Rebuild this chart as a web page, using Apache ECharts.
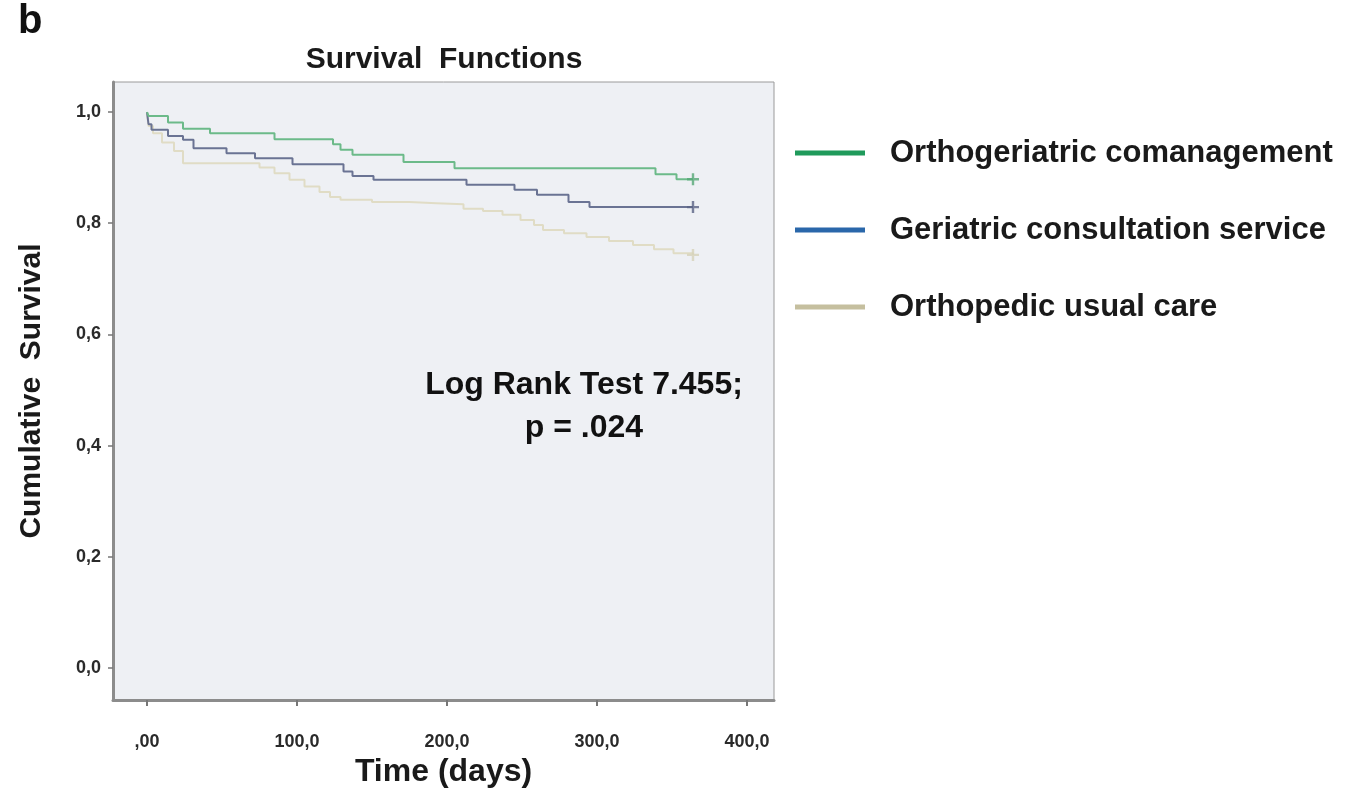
<!DOCTYPE html>
<html>
<head>
<meta charset="utf-8">
<script src="https://cdn.jsdelivr.net/npm/echarts@6/dist/echarts.min.js"></script>
<style>
  html, body { margin: 0; padding: 0; background: #fff; }
  #chart { width: 1350px; height: 793px; }
</style>
</head>
<body>
<div id="chart"></div>
<script>
// Kaplan-Meier curves (days, cumulative survival)
const groupNames = ['Orthogeriatric comanagement', 'Geriatric consultation service', 'Orthopedic usual care'];

const greenTimes = [0, 1, 14, 24, 42, 85, 124, 129, 137, 171, 205, 339, 353, 364];
const greenSurv  = [1.0, 0.993, 0.981, 0.970, 0.962, 0.951, 0.942, 0.932, 0.923, 0.910, 0.899, 0.888, 0.879, 0.879];

const blueTimes = [0, 1, 3, 14, 24, 31, 53, 72, 97, 131, 137, 151, 213, 245, 260, 281, 295, 364];
const blueSurv  = [1.0, 0.978, 0.968, 0.957, 0.950, 0.935, 0.926, 0.917, 0.906, 0.893, 0.885, 0.878, 0.869, 0.860, 0.851, 0.838, 0.829, 0.829];

const tanTimes = [0, 1, 4, 10, 18, 24, 75, 85, 95, 105, 115, 122, 129, 150, 175, 193, 211, 224, 237, 249, 258, 264, 278, 293, 308, 324, 338, 351, 364];
const tanSurv  = [1.0, 0.975, 0.962, 0.945, 0.930, 0.908, 0.900, 0.890, 0.878, 0.866, 0.856, 0.847, 0.842, 0.838, 0.836, 0.834, 0.826, 0.822, 0.815, 0.806, 0.797, 0.788, 0.782, 0.775, 0.768, 0.761, 0.753, 0.746, 0.743];

// censored at end of follow-up
const censorTime = 364;

const xTicks = [0, 100, 200, 300, 400];
const yTicks = [0, 0.2, 0.4, 0.6, 0.8, 1.0];

const lineColors   = ['#6cba89', '#6a7393', '#e0dcc5'];
const legendColors = ['#1f9a5b', '#2a67aa', '#c5bf9f'];

const FONT = '"Liberation Sans", Arial, sans-serif';

function zip(ts, ss) { return ts.map((t, i) => [t, ss[i]]); }

const curves = [zip(greenTimes, greenSurv), zip(blueTimes, blueSurv), zip(tanTimes, tanSurv)];

const series = [];
curves.forEach((d, i) => {
  series.push({
    name: groupNames[i],
    type: 'line',
    step: 'end',
    data: d,
    showSymbol: false,
    lineStyle: { color: lineColors[i], width: 2 },
    itemStyle: { color: lineColors[i] },
    z: 3 - i
  });
});
// "+" censor marks at the last point of each curve
curves.forEach((d, i) => {
  series.push({
    name: groupNames[i] + ' censored',
    type: 'scatter',
    data: [[censorTime, d[d.length - 1][1]]],
    symbol: 'path://M4,0h2v4h4v2h-4v4h-2v-4h-4v-2h4z',
    symbolSize: 12,
    itemStyle: { color: ['#55a876', '#5a6384', '#d6d2b9'][i] },
    z: 5
  });
});

const chart = echarts.init(document.getElementById('chart'));

chart.setOption({
  backgroundColor: '#ffffff',
  animation: false,
  textStyle: { fontFamily: FONT },
  grid: {
    left: 113, top: 82, right: 576, bottom: 93,
    show: true,
    backgroundColor: '#eef0f4',
    borderColor: '#9a9a9a',
    borderWidth: 1
  },
  legend: {
    orient: 'vertical',
    left: 790,
    top: 132,
    itemWidth: 70,
    itemHeight: 5,
    itemGap: 45,
    icon: 'rect',
    selectedMode: false,
    textStyle: { fontFamily: FONT, fontSize: 31, fontWeight: 'bold', color: '#1a1a1a', lineHeight: 32, padding: [0, 0, 0, 20] },
    data: groupNames.map((n, i) => ({ name: n, itemStyle: { color: legendColors[i] } }))
  },
  xAxis: {
    type: 'value',
    min: -22.67,
    max: 418,
    name: 'Time (days)',
    nameLocation: 'middle',
    nameGap: 55,
    nameTextStyle: { fontFamily: FONT, fontSize: 32, fontWeight: 'bold', color: '#1a1a1a' },
    splitLine: { show: false },
    axisLine: { onZero: false, lineStyle: { color: '#8c8c8c', width: 3 } },
    axisTick: { length: 6, lineStyle: { color: '#777', width: 2 }, customValues: xTicks },
    axisLabel: {
      customValues: xTicks,
      margin: 33,
      fontSize: 18,
      fontWeight: 'bold',
      color: '#2a2a2a',
      formatter: v => v === 0 ? ',00' : v.toFixed(1).replace('.', ',')
    }
  },
  yAxis: {
    type: 'value',
    min: -0.0576,
    max: 1.054,
    name: 'Cumulative  Survival',
    nameLocation: 'middle',
    nameRotate: 90,
    nameGap: 66,
    nameTextStyle: { fontFamily: FONT, fontSize: 30, fontWeight: 'bold', color: '#1a1a1a' },
    splitLine: { show: false },
    axisLine: { onZero: false, lineStyle: { color: '#8c8c8c', width: 3 } },
    axisTick: { length: 5, lineStyle: { color: '#777', width: 1.5 }, customValues: yTicks },
    axisLabel: {
      customValues: yTicks,
      margin: 12,
      fontSize: 18,
      fontWeight: 'bold',
      color: '#2a2a2a',
      formatter: v => v.toFixed(1).replace('.', ',')
    }
  },
  graphic: [
    { type: 'text', left: 18, top: 2, style: { text: 'b', font: 'bold 40px ' + FONT, fill: '#111' } },
    { type: 'text', x: 444, y: 60, style: { text: 'Survival  Functions', font: 'bold 30px ' + FONT, fill: '#1a1a1a', align: 'center', verticalAlign: 'middle' } },
    { type: 'text', x: 584, y: 385, z: 10, style: { text: 'Log Rank Test 7.455;', font: 'bold 32px ' + FONT, fill: '#111', align: 'center', verticalAlign: 'middle' } },
    { type: 'text', x: 584, y: 428, z: 10, style: { text: 'p = .024', font: 'bold 32px ' + FONT, fill: '#111', align: 'center', verticalAlign: 'middle' } }
  ],
  series: series
});
</script>
</body>
</html>
